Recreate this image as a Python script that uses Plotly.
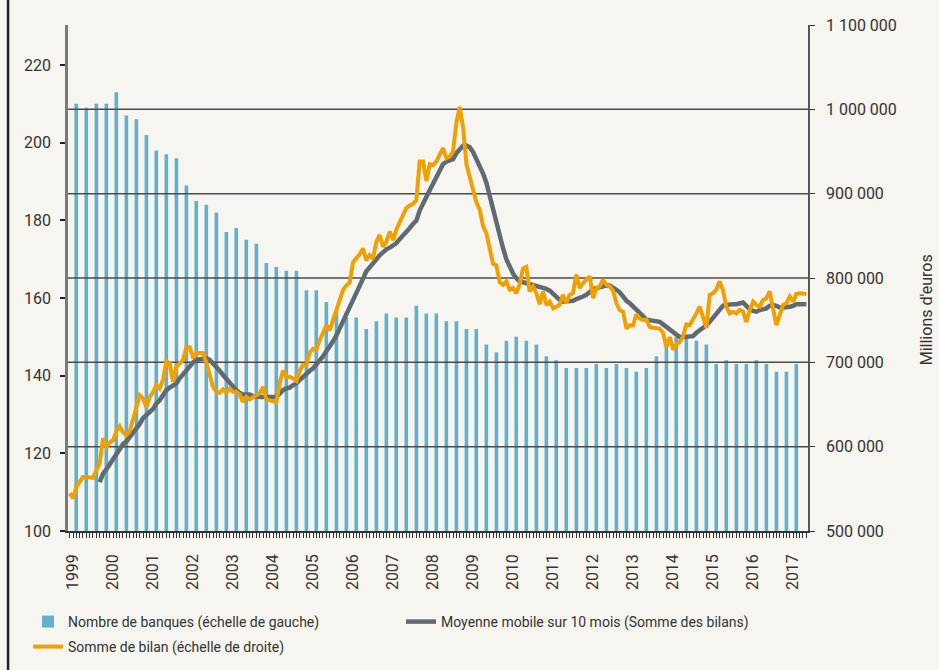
import plotly.graph_objects as go
import pandas as pd

# ---------------- data ----------------
years = list(range(1999, 2018))
months = pd.date_range("1999-01-01", "2017-06-01", freq="MS")          # 222 months
quarters = pd.date_range("1999-03-01", "2017-03-01", freq="3MS")       # 73 quarter ends
ma_months = months[9:]                                                 # 213 months

# Nombre de banques (quarterly)
nb_banques = [210, 209, 210, 210, 213, 207, 206, 202, 198, 197, 196, 189, 185, 184, 182,
              177, 178, 175, 174, 169, 168, 167, 167, 162, 162, 159, 157, 155, 155, 152,
              154, 156, 155, 155, 158, 156, 156, 154, 154, 152, 152, 148, 146, 149, 150,
              149, 148, 145, 144, 142, 142, 142, 143, 142, 143, 142, 141, 142, 145, 148,
              150, 150, 149, 148, 143, 144, 143, 143, 144, 143, 141, 141, 143]

# Somme de bilan (milliers de millions d'euros), monthly
somme_bilan = [
    545, 539, 552, 558, 564, 564, 564, 563, 572, 580, 610, 600,
    605, 608, 618, 624, 617, 614, 618, 634, 649, 661, 657, 647,
    659, 665, 673, 669, 679, 701, 699, 677, 695, 699, 703, 718,
    718, 705, 711, 711, 711, 700, 685, 671, 665, 664, 668, 664,
    669, 665, 665, 662, 653, 659, 656, 659, 661, 663, 671, 656,
    655, 655, 653, 675, 690, 683, 683, 681, 678, 690, 697, 697,
    712, 716, 715, 726, 735, 744, 738, 750, 760, 774, 786, 791,
    795, 819, 823, 828, 835, 821, 827, 823, 843, 851, 837, 843,
    855, 845, 857, 865, 873, 883, 886, 888, 892, 938, 938, 915,
    935, 934, 938, 946, 954, 942, 944, 950, 985, 1003, 978, 935,
    920, 907, 890, 881, 862, 853, 835, 817, 815, 795, 792, 796,
    786, 788, 782, 792, 811, 813, 784, 790, 782, 769, 784, 768,
    772, 764, 766, 768, 780, 770, 780, 782, 804, 788, 794, 798,
    802, 776, 788, 790, 798, 792, 790, 785, 770, 762, 760, 740,
    744, 744, 757, 752, 750, 751, 742, 741, 741, 740, 735, 718,
    730, 715, 721, 724, 730, 745, 744, 750, 758, 766, 754, 741,
    780, 782, 786, 796, 786, 766, 758, 760, 758, 762, 760, 748,
    762, 772, 768, 766, 774, 776, 784, 766, 744, 756, 768, 770,
    778, 772, 781, 782, 782, 781]

# Moyenne mobile sur 10 mois (milliers de millions d'euros), from Oct 1999
moyenne_mobile = [
    558, 568, 573,
    579, 585, 591, 597, 603, 606, 611, 616, 621, 627, 634, 638,
    641, 645, 651, 655, 661, 667, 670, 673, 675, 681, 686, 692,
    697, 700, 703, 704, 705, 705, 703, 699, 694, 690, 685, 680,
    676, 671, 667, 664, 662, 662, 662, 660, 659, 659, 659, 659,
    659, 659, 659, 663, 667, 669, 670, 673, 675, 679, 683, 687,
    690, 693, 697, 702, 707, 713, 718, 725, 732, 740, 748, 756,
    765, 774, 781, 790, 799, 808, 812, 817, 822, 827, 831, 834,
    836, 839, 841, 846, 851, 855, 859, 864, 868, 880, 887, 896,
    904, 912, 921, 930, 935, 938, 939, 941, 948, 953, 957, 957,
    955, 949, 942, 933, 924, 913, 898, 880, 862, 848, 835, 822,
    812, 805, 800, 796, 795, 794, 793, 792, 791, 790, 788, 787,
    785, 781, 777, 774, 772, 772, 772, 773, 775, 776, 778, 780,
    784, 787, 788, 789, 791, 791, 791, 789, 786, 783, 777, 773,
    770, 766, 762, 758, 755, 751, 750, 749, 748, 748, 745, 742,
    739, 736, 733, 730, 730, 730, 730, 731, 735, 738, 740, 744,
    748, 753, 759, 764, 767, 768, 769, 769, 769, 770, 771, 767,
    763, 761, 760, 762, 763, 764, 767, 768, 767, 765, 765, 765,
    766, 767, 769, 769, 769, 769]

left_ticks = [100, 120, 140, 160, 180, 200, 220]
right_ticks = [500, 600, 700, 800, 900, 1000, 1100]
right_ticktext = ["500 000", "600 000", "700 000", "800 000", "900 000", "1 000 000", "1 100 000"]
grid_ticks = [600, 700, 800, 900, 1000]

# ---------------- style ----------------
BG = "#f7f5f0"
BAR = "#62b1cb"
ORANGE = "#f0a000"
GREY = "#5f6a72"
TXT = "#333333"
x_range = ["1998-12-16", "2017-06-16"]

fig = go.Figure()

fig.add_trace(go.Bar(
    x=quarters, y=nb_banques, name="Nombre de banques (échelle de gauche)",
    marker=dict(color=BAR, line=dict(width=0)), width=33 * 86400000, yaxis="y",
    legend="legend"))

# horizontal reference lines (drawn above bars, below the curves)
gx, gy = [], []
for t in grid_ticks:
    gx += [x_range[0], x_range[1], None]
    gy += [t, t, None]
fig.add_trace(go.Scatter(x=gx, y=gy, mode="lines", yaxis="y2", showlegend=False,
                         hoverinfo="skip", line=dict(color="#4a4a4a", width=1.5)))

fig.add_trace(go.Scatter(
    x=ma_months, y=moyenne_mobile, name="Moyenne mobile sur 10 mois (Somme des bilans)",
    mode="lines", line=dict(color=GREY, width=4.5), yaxis="y2", legend="legend2"))
fig.add_trace(go.Scatter(
    x=months, y=somme_bilan, name="Somme de bilan (échelle de droite)",
    mode="lines", line=dict(color=ORANGE, width=4), yaxis="y2", legend="legend3"))

legend_common = dict(orientation="h", xanchor="left", yanchor="middle",
                     font=dict(size=14, color=TXT), bgcolor="rgba(0,0,0,0)", itemwidth=30)

fig.update_layout(
    width=939, height=670,
    margin=dict(l=68, r=131, t=25, b=139, autoexpand=False),
    paper_bgcolor=BG, plot_bgcolor=BG,
    font=dict(family="Roboto, sans-serif", size=16, color=TXT),
    showlegend=True,
    legend=dict(x=-0.054, y=-0.1798, **legend_common),
    legend2=dict(x=0.45, y=-0.1798, **legend_common),
    legend3=dict(x=-0.054, y=-0.2292, **legend_common),
    xaxis=dict(type="date", range=x_range, showgrid=False, zeroline=False,
               tickvals=[f"{y}-02-01" for y in years], ticktext=[str(y) for y in years],
               tickangle=-90, ticks="", ticklabelstandoff=15,
               tickfont=dict(size=16, color=TXT),
               showline=True, linecolor="#333333", linewidth=1.5,
               minor=dict(dtick="M1", ticks="outside", ticklen=5, tickcolor="#333333",
                          tickwidth=1, showgrid=False)),
    yaxis=dict(range=[100, 230.3], tickvals=left_ticks, ticks="outside", ticklen=5,
               tickcolor="#222222", tickwidth=1.5, showgrid=False, zeroline=False,
               showline=True, linecolor="#7a7a7a", linewidth=2.5,
               ticklabelstandoff=6, tickfont=dict(size=16, color=TXT)),
    yaxis2=dict(overlaying="y", side="right", range=[500, 1100], tickvals=right_ticks,
                ticktext=right_ticktext, ticks="outside", ticklen=5, tickcolor="#333333",
                showgrid=False, zeroline=False, showline=True, linecolor="#555555",
                linewidth=1.5, ticklabelstandoff=8, tickfont=dict(size=16, color=TXT)),
    annotations=[dict(text="Millions d'euros", xref="paper", yref="paper",
                      x=1.16, y=0.437, textangle=-90, showarrow=False,
                      font=dict(size=16, color=TXT), xanchor="center", yanchor="middle")],
    shapes=[dict(type="line", xref="paper", yref="paper", x0=-0.081, x1=-0.081,
                 y0=-0.2747, y1=1.0494, line=dict(color="#222222", width=2.5))],
)

# remove the default 8px page margin so the 939x670 figure fills the window exactly
fig.write_html("out.html", config={"displayModeBar": False},
               post_script="document.body.style.margin='0';document.body.style.overflow='hidden';")
